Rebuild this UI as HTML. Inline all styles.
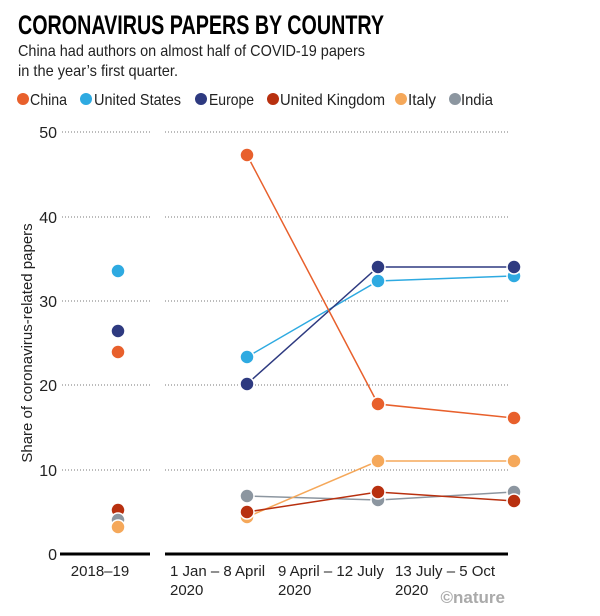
<!DOCTYPE html>
<html><head><meta charset="utf-8"><style>
body{margin:0;background:#fff;width:600px;height:611px;overflow:hidden}
svg text{font-family:"Liberation Sans",sans-serif}
</style></head><body>
<svg width="600" height="611" viewBox="0 0 600 611" xmlns="http://www.w3.org/2000/svg">
<text x="18" y="34" font-size="27" font-weight="bold" fill="#000" textLength="366" lengthAdjust="spacingAndGlyphs">CORONAVIRUS PAPERS BY COUNTRY</text>
<text x="18" y="56" font-size="16" fill="#222" textLength="347" lengthAdjust="spacingAndGlyphs">China had authors on almost half of COVID-19 papers</text>
<text x="18" y="76" font-size="16" fill="#222" textLength="160" lengthAdjust="spacingAndGlyphs">in the year’s first quarter.</text>
<g font-size="16" fill="#222">
<circle cx="23" cy="99" r="6" fill="#e8602c"/><text x="30" y="105" textLength="37" lengthAdjust="spacingAndGlyphs">China</text>
<circle cx="86" cy="99" r="6" fill="#2eaae1"/><text x="94" y="105" textLength="87" lengthAdjust="spacingAndGlyphs">United States</text>
<circle cx="201" cy="99" r="6" fill="#2e3a80"/><text x="209" y="105" textLength="45" lengthAdjust="spacingAndGlyphs">Europe</text>
<circle cx="273" cy="99" r="6" fill="#b8300f"/><text x="280" y="105" textLength="105" lengthAdjust="spacingAndGlyphs">United Kingdom</text>
<circle cx="401" cy="99" r="6" fill="#f5a85a"/><text x="408" y="105" textLength="28" lengthAdjust="spacingAndGlyphs">Italy</text>
<circle cx="455" cy="99" r="6" fill="#8c96a0"/><text x="461" y="105" textLength="32" lengthAdjust="spacingAndGlyphs">India</text>
</g>
<g stroke="#777" stroke-width="1" stroke-dasharray="1,2">
<line x1="62" y1="132" x2="150" y2="132"/><line x1="165" y1="132" x2="508" y2="132"/>
<line x1="62" y1="217" x2="150" y2="217"/><line x1="165" y1="217" x2="508" y2="217"/>
<line x1="62" y1="301" x2="150" y2="301"/><line x1="165" y1="301" x2="508" y2="301"/>
<line x1="62" y1="385" x2="150" y2="385"/><line x1="165" y1="385" x2="508" y2="385"/>
<line x1="62" y1="470" x2="150" y2="470"/><line x1="165" y1="470" x2="508" y2="470"/>
</g>
<line x1="60" y1="554" x2="150" y2="554" stroke="#000" stroke-width="3"/>
<line x1="165" y1="554" x2="508" y2="554" stroke="#000" stroke-width="3"/>
<g font-size="16" fill="#222" text-anchor="end">
<text x="57" y="138">50</text><text x="57" y="223">40</text><text x="57" y="307">30</text>
<text x="57" y="391">20</text><text x="57" y="476">10</text><text x="57" y="560">0</text>
</g>
<text transform="translate(32,343) rotate(-90)" font-size="15" fill="#222" text-anchor="middle">Share of coronavirus-related papers</text>
<g font-size="15" fill="#222">
<text x="100" y="576" text-anchor="middle">2018–19</text>
<text x="170" y="576">1 Jan – 8 April</text><text x="170" y="595">2020</text>
<text x="278" y="576">9 April – 12 July</text><text x="278" y="595">2020</text>
<text x="395" y="576">13 July – 5 Oct</text><text x="395" y="595">2020</text>
</g>
<text x="505" y="603" font-size="17" font-weight="bold" fill="#aaa" text-anchor="end">©nature</text>
<g fill="none" stroke-width="1.5">
<polyline points="247,496 378,500 514,492" stroke="#8c96a0"/>
<polyline points="247,517 378,461 514,461" stroke="#f5a85a"/>
<polyline points="247,512 378,492 514,501" stroke="#b8300f"/>
<polyline points="247,357 378,281 514,276" stroke="#2eaae1"/>
<polyline points="247,384 378,267 514,267" stroke="#2e3a80"/>
<polyline points="247,155 378,404 514,418" stroke="#e8602c"/>
</g>
<g stroke="#fff" stroke-width="1.5">
<circle cx="118" cy="271" r="7" fill="#2eaae1"/><circle cx="118" cy="331" r="7" fill="#2e3a80"/>
<circle cx="118" cy="352" r="7" fill="#e8602c"/>
<circle cx="118" cy="510" r="7" fill="#b8300f"/><circle cx="118" cy="520" r="7" fill="#8c96a0"/>
<circle cx="118" cy="527" r="7" fill="#f5a85a"/>
<circle cx="247" cy="496" r="7" fill="#8c96a0"/><circle cx="247" cy="517" r="7" fill="#f5a85a"/>
<circle cx="247" cy="512" r="7" fill="#b8300f"/><circle cx="247" cy="357" r="7" fill="#2eaae1"/>
<circle cx="247" cy="384" r="7" fill="#2e3a80"/><circle cx="247" cy="155" r="7" fill="#e8602c"/>
<circle cx="378" cy="500" r="7" fill="#8c96a0"/><circle cx="378" cy="461" r="7" fill="#f5a85a"/>
<circle cx="378" cy="492" r="7" fill="#b8300f"/><circle cx="378" cy="281" r="7" fill="#2eaae1"/>
<circle cx="378" cy="267" r="7" fill="#2e3a80"/><circle cx="378" cy="404" r="7" fill="#e8602c"/>
<circle cx="514" cy="492" r="7" fill="#8c96a0"/><circle cx="514" cy="461" r="7" fill="#f5a85a"/>
<circle cx="514" cy="501" r="7" fill="#b8300f"/><circle cx="514" cy="276" r="7" fill="#2eaae1"/>
<circle cx="514" cy="267" r="7" fill="#2e3a80"/><circle cx="514" cy="418" r="7" fill="#e8602c"/>
</g>
</svg>
</body></html>
